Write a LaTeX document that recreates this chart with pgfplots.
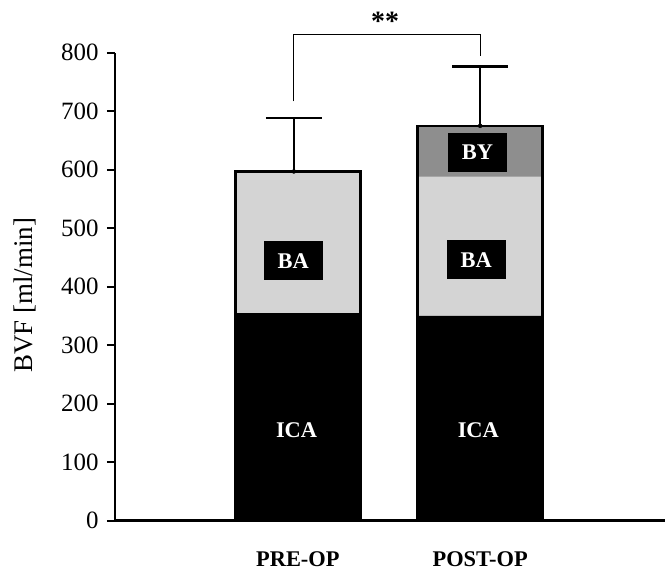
\documentclass[border=0pt]{standalone}
\usepackage{pgfplots}
\pgfplotsset{compat=1.18}
\usepackage{fontspec}
\setmainfont{Liberation Serif}
\definecolor{baGray}{HTML}{D4D4D4}
\definecolor{byGray}{HTML}{8E8E8E}
\begin{document}
\begin{tikzpicture}
\pgfplotsset{
 common/.style={
  width=550bp, height=468bp, scale only axis,
  xmin=-1.003, xmax=2.014, ymin=0, ymax=800,
  clip=false,
 }
}
\begin{axis}[common,
  ybar stacked, bar width=125bp,
  axis x line=bottom, axis y line=left,
  axis line style={line width=2.5bp, -},
  xtick={0,1}, xticklabels={PRE-OP,POST-OP},
  xticklabel style={font=\fontsize{22.5}{26}\selectfont\bfseries, yshift=-19bp},
  major x tick style={draw=none},
  ytick={0,100,...,800},
  tick align=outside, major tick length=8bp,
  major y tick style={line width=2bp, black},
  yticklabel style={font=\fontsize{25}{28}\selectfont, xshift=-5bp},
  /pgf/number format/assume math mode=true,
  ylabel={BVF [ml/min]},
  ylabel style={font=\fontsize{27}{30}\selectfont, at={(axis description cs:-0.164,0.482)}, anchor=center},
]
\addplot[fill=black, draw=none] coordinates {(0,355) (1,350)};
\addplot[fill=baGray, draw=none] coordinates {(0,242) (1,238)};
\addplot[fill=byGray, draw=none] coordinates {(0,0) (1,87)};
\end{axis}
\begin{axis}[common, axis lines=none, ybar, bar width=125bp]
\addplot[fill=none, draw=black, line width=2.5bp] coordinates {(0,597) (1,675)};
\end{axis}
\begin{axis}[common, axis lines=none]
\addplot[only marks, mark=none,
  error bars/.cd, y dir=plus, y explicit,
  error bar style={black, solid, line width=2.5bp},
  error mark=-, error mark options={rotate=90, mark size=28bp, line width=2.5bp, black}]
  coordinates {(-0.022,597) +- (0,91) (1,675) +- (0,101)};
\draw[line width=1.2bp] (axis cs:-0.022,717) -- (axis cs:-0.022,831) -- (axis cs:1,831) -- (axis cs:1,794);
\node[font=\fontsize{28}{30}\selectfont\bfseries] at (axis cs:0.479,853) {**};
\tikzset{lbl/.style={fill=black, text=white, font=\fontsize{22.5}{26}\selectfont\bfseries, minimum width=59bp, minimum height=39bp, inner sep=0pt}}
\node[lbl] at (axis cs:-0.025,444) {BA};
\node[lbl] at (axis cs:0.978,446) {BA};
\node[lbl] at (axis cs:0.985,630) {BY};
\node[text=white, font=\fontsize{22.5}{26}\selectfont\bfseries] at (axis cs:-0.007,155) {ICA};
\node[text=white, font=\fontsize{22.5}{26}\selectfont\bfseries] at (axis cs:0.99,155) {ICA};
\coordinate (bl) at (rel axis cs:0,0);
\coordinate (tr) at (rel axis cs:1,1);
\end{axis}
\pgfresetboundingbox
\path (bl) ++(-115bp,-50.3bp) rectangle ([shift={(4bp,52.7bp)}]tr);
\end{tikzpicture}
\end{document}
